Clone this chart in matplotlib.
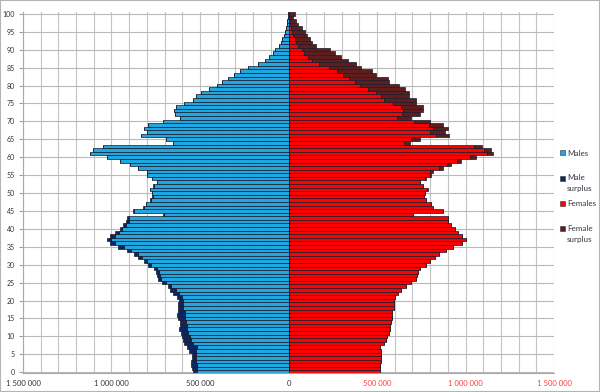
import numpy as np
import matplotlib
matplotlib.use("Agg")
import matplotlib.pyplot as plt
import matplotlib.patches as mpatches
from matplotlib.ticker import FuncFormatter, MultipleLocator

# population by single year of age, thousands
ages = np.arange(0, 101)
males = [538, 545, 549, 551, 547, 547, 562, 576, 589, 598,
         604, 608, 617, 613, 613, 623, 632, 623, 626, 623,
         619, 632, 655, 670, 679, 717, 735, 745, 749, 760,
         792, 816, 848, 871, 914, 961, 1008, 1027, 1008, 980,
         952, 933, 918, 914, 711, 880, 824, 807, 783, 769,
         773, 783, 764, 741, 773, 801, 801, 852, 895, 952,
         1025, 1121, 1104, 1050, 651, 690, 835, 801, 818, 792,
         709, 611, 641, 645, 634, 589, 540, 521, 493, 451,
         406, 374, 339, 307, 275, 228, 175, 135, 109, 90,
         75, 56, 43, 34, 24, 19, 13, 9, 7, 5, 5]
females = [515, 519, 515, 521, 525, 525, 525, 519, 540, 549,
           557, 566, 572, 576, 577, 583, 587, 587, 596, 594,
           596, 600, 619, 638, 666, 694, 722, 726, 734, 741,
           779, 798, 826, 850, 892, 929, 982, 1004, 982, 957,
           939, 920, 901, 901, 703, 873, 816, 807, 779, 764,
           773, 788, 760, 741, 779, 807, 816, 873, 920, 976,
           1061, 1155, 1146, 1093, 685, 741, 907, 882, 901, 873,
           798, 692, 741, 760, 760, 722, 719, 681, 681, 656,
           624, 568, 562, 497, 474, 412, 380, 337, 299, 261,
           237, 158, 135, 124, 105, 94, 77, 56, 40, 26, 38]

m = np.array(males) * 1000
f = np.array(females) * 1000
common = np.minimum(m, f)
male_surplus = np.clip(m - f, 0, None)
female_surplus = np.clip(f - m, 0, None)

c_male = "#1FA7E1"
c_msur = "#0B2660"
c_fem = "#FF0000"
c_fsur = "#5E1E1E"
edge = "#1a1a2a"
txt = "#333340"

fig = plt.figure(figsize=(6, 3.92), dpi=100)
ax = fig.add_axes([23/600, 18.7/392, 531/600, 361.6/392])

kw = dict(height=1.0, edgecolor=edge, linewidth=0.5)
ax.barh(ages, -common, color=c_male, **kw)
ax.barh(ages, -male_surplus, left=-common, color=c_msur, **kw)
ax.barh(ages, common, color=c_fem, **kw)
ax.barh(ages, female_surplus, left=common, color=c_fsur, **kw)

ax.set_xlim(-1500000, 1500000)
ax.set_ylim(-0.3, 100.6)
ax.xaxis.set_major_locator(MultipleLocator(500000))
ax.xaxis.set_minor_locator(MultipleLocator(100000))
ax.yaxis.set_major_locator(MultipleLocator(5))
ax.grid(True, which="both", axis="x", color="#C4C4C4", linewidth=0.8)
ax.grid(True, which="major", axis="y", color="#B8B8B8", linewidth=0.8)
ax.set_axisbelow(True)
ax.axvline(0, color="#A0A0A0", linewidth=0.8, zorder=0.5)

def fmt(v, pos):
    return "{:,}".format(int(abs(v))).replace(",", " ")

ax.xaxis.set_major_formatter(FuncFormatter(fmt))
ax.tick_params(axis="x", which="both", length=0, pad=5, labelsize=5.5)
ax.tick_params(axis="y", length=3, color="#A0A0A0", pad=3, labelsize=5)
for lab, v in zip(ax.get_xticklabels(), ax.get_xticks()):
    lab.set_fontfamily("Lato")
    lab.set_color("#FF4040" if v > 0 else txt)
for lab in ax.get_yticklabels():
    lab.set_color(txt)
    lab.set_fontfamily("Lato")

for s in ["top", "right"]:
    ax.spines[s].set_visible(False)
for s in ["left", "bottom"]:
    ax.spines[s].set_color("#A8A8A8")
    ax.spines[s].set_linewidth(0.8)

# legend, drawn by hand so the marker sits on the first text line
items = [(c_male, ["Males"], 153), (c_msur, ["Male", "surplus"], 178),
         (c_fem, ["Females"], 203), (c_fsur, ["Female", "surplus"], 229)]
for col, lines, yp in items:
    fig.patches.append(mpatches.Rectangle((560/600, 1 - (yp + 2.5)/392), 5/600, 5/392,
                                          facecolor=col, edgecolor="#333333", linewidth=0.4,
                                          transform=fig.transFigure))
    for i, line in enumerate(lines):
        fig.text(567/600, 1 - (yp + 10.5*i)/392, line, fontsize=5.8, family="Lato",
                 color=txt, va="center", ha="left")

fig.patches.append(mpatches.Rectangle((0, 0), 1, 1, fill=False, edgecolor="#B4B4B4",
                                      linewidth=1.5, transform=fig.transFigure))

fig.savefig("out.png", dpi=100)
